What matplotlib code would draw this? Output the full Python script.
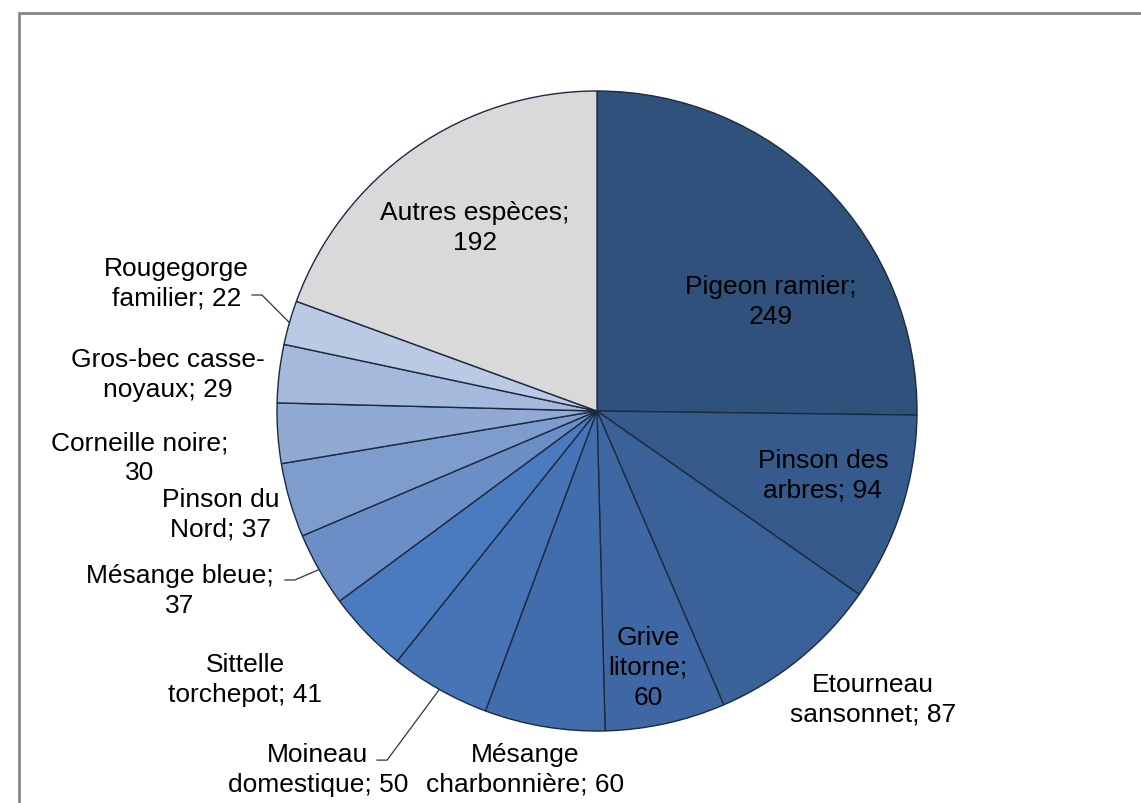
import numpy as np
import matplotlib.pyplot as plt
from matplotlib.patches import Rectangle

plt.rcParams['font.family'] = ['Liberation Sans', 'DejaVu Sans']

# Data (clockwise from 12 o'clock)
species = ["Pigeon ramier", "Pinson des arbres", "Etourneau sansonnet", "Grive litorne",
           "Mésange charbonnière", "Moineau domestique", "Sittelle torchepot",
           "Mésange bleue", "Pinson du Nord", "Corneille noire",
           "Gros-bec casse-noyaux", "Rougegorge familier", "Autres espèces"]
counts = [249, 94, 87, 60, 60, 50, 41, 37, 37, 30, 29, 22, 192]

# label text as broken in the original
label_lines = ["Pigeon ramier;\n249", "Pinson des\narbres; 94", "Etourneau\nsansonnet; 87",
               "Grive\nlitorne;\n60", "Mésange\ncharbonnière; 60", "Moineau\ndomestique; 50",
               "Sittelle\ntorchepot; 41", "Mésange bleue;\n37", "Pinson du\nNord; 37",
               "Corneille noire;\n30", "Gros-bec casse-\nnoyaux; 29", "Rougegorge\nfamilier; 22",
               "Autres espèces;\n192"]

colors = ['#2f517c', '#355a8b', '#3a6198', '#3e67a3', '#426dad', '#4674b7', '#4a7bbf',
          '#6b8ec6', '#7e9ccc', '#91aad4', '#a5b9dc', '#bbcae4', '#d9d9d9']

# label centres in pie units (radius = 1)
label_pos = [(0.544, 0.344), (0.706, -0.20), (0.8625, -0.90), (0.159, -0.80),
             (-0.225, -1.119), (-0.872, -1.119), (-1.10, -0.8375), (-1.303, -0.559),
             (-1.175, -0.322), (-1.428, -0.144), (-1.34, 0.116), (-1.315, 0.40),
             (-0.381, 0.575)]

# leader line elbows (label side) for the few labels that have one
leaders = {
    11: [(-1.078, 0.3625), (-1.047, 0.3625)],
    7: [(-0.975, -0.528), (-0.944, -0.528)],
    5: [(-0.6875, -1.091), (-0.656, -1.091)],
}

fig = plt.figure(figsize=(11.41, 8.04), dpi=100)
ax = fig.add_axes([277 / 1141, 72 / 804, 640 / 1141, 640 / 804])

wedges, _ = ax.pie(counts, colors=colors, startangle=90, counterclock=False, radius=1,
                   wedgeprops=dict(edgecolor='#1c2a40', linewidth=1.0))

ax.set_xlim(-1, 1)
ax.set_ylim(-1, 1)
ax.set_aspect('equal')
ax.axis('off')

for txt, (x, y) in zip(label_lines, label_pos):
    ax.text(x, y, txt, ha='center', va='center', fontsize=19, color='black',
            linespacing=1.3, clip_on=False)

# leader lines from slice edge (mid angle) to the label
for i, pts in leaders.items():
    w = wedges[i]
    mid = np.deg2rad((w.theta1 + w.theta2) / 2)
    ex, ey = np.cos(mid), np.sin(mid)
    xs = [pts[0][0], pts[1][0], ex]
    ys = [pts[0][1], pts[1][1], ey]
    ax.plot(xs, ys, color='#333333', linewidth=0.9, clip_on=False)

# grey chart frame, open to the right and bottom
fig.patches.append(Rectangle((19 / 1141, -0.1), 1.2, 0.1 + (804 - 14) / 804,
                             transform=fig.transFigure, fill=False,
                             edgecolor='#868686', linewidth=2.0))

plt.savefig("out.png", dpi=100, facecolor='white')
plt.close()
